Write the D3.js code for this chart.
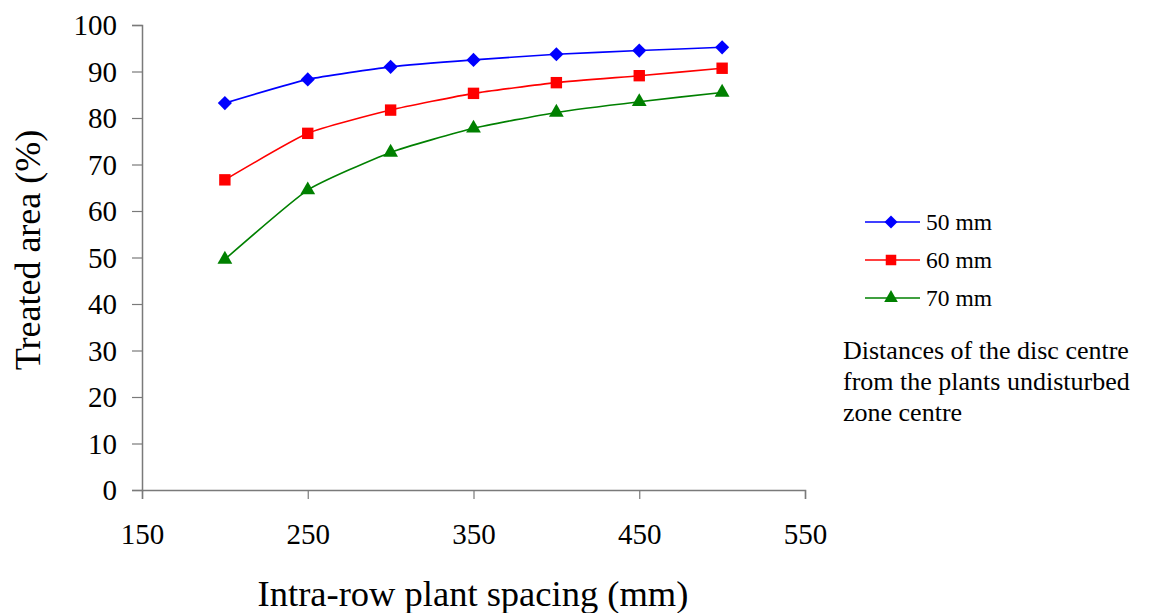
<!DOCTYPE html>
<html>
<head>
<meta charset="utf-8">
<script src="https://cdn.jsdelivr.net/npm/d3@7"></script>
<style>
  body { margin: 0; background: #fff; }
  svg { display: block; font-family: "Liberation Serif", "Times New Roman", serif; }
</style>
</head>
<body>
<svg id="chart" width="1149" height="613"></svg>
<script>
// spacing values (mm) and treated area (%) per disc distance
const spacing = [200, 250, 300, 350, 400, 450, 500];
const area50 = [83.2, 88.3, 91.0, 92.5, 93.7, 94.5, 95.2];
const area60 = [66.7, 76.7, 81.7, 85.3, 87.6, 89.1, 90.7];
const area70 = [49.6, 64.5, 72.6, 77.8, 81.2, 83.5, 85.5];
const seriesNames = ["50 mm", "60 mm", "70 mm"];
const xTicks = [150, 250, 350, 450, 550];
const yTicks = [0, 10, 20, 30, 40, 50, 60, 70, 80, 90, 100];

const svg = d3.select("#chart");

const x = d3.scaleLinear().domain([150, 550]).range([142, 805]);
const y = d3.scaleLinear().domain([0, 100]).range([490, 25]);

// square diamond (rotated square) like the spreadsheet marker
const diamond = {
    draw(ctx, size) {
        const r = Math.sqrt(size / 2);
        ctx.moveTo(0, -r); ctx.lineTo(r, 0); ctx.lineTo(0, r); ctx.lineTo(-r, 0); ctx.closePath();
    }
};

const series = [
    { name: seriesNames[0], values: area50, color: "#0000ff", shape: diamond, size: 100 },
    { name: seriesNames[1], values: area60, color: "#ff0000", shape: d3.symbolSquare, size: 130 },
    { name: seriesNames[2], values: area70, color: "#008000", shape: d3.symbolTriangle, size: 95 }
];

// axes
const xAxis = svg.append("g")
    .attr("transform", `translate(0,${y(0)})`)
    .call(d3.axisBottom(x).tickValues(xTicks).tickSize(9).tickPadding(24).tickFormat(d3.format("d")));
const yAxis = svg.append("g")
    .attr("transform", `translate(${x(150)},0)`)
    .call(d3.axisLeft(y).tickValues(yTicks).tickSize(10).tickPadding(15).tickFormat(d3.format("d")));

[xAxis, yAxis].forEach(g => {
    g.attr("font-family", null).attr("font-size", null);
    g.select(".domain").attr("stroke", "#7a7a7a").attr("stroke-width", 1.5);
    g.selectAll(".tick line").attr("stroke", "#7a7a7a").attr("stroke-width", 1.2);
    g.selectAll(".tick text")
        .attr("fill", "#000")
        .style("font-family", "Liberation Serif")
        .style("font-size", "29px");
});
yAxis.selectAll(".tick text").attr("dy", "0.34em");

// lightly smoothed lines and markers
const line = d3.line()
    .x((d, i) => x(spacing[i]))
    .y(d => y(d))
    .curve(d3.curveCardinal.tension(0.5));

series.forEach(s => {
    svg.append("path")
        .attr("d", line(s.values))
        .attr("fill", "none")
        .attr("stroke", s.color)
        .attr("stroke-width", 1.6);
    svg.append("g").selectAll("path")
        .data(s.values)
        .join("path")
        .attr("transform", (d, i) => `translate(${x(spacing[i])},${y(d)})`)
        .attr("d", d3.symbol().type(s.shape).size(s.size))
        .attr("fill", s.color);
});

// axis titles
svg.append("text")
    .attr("x", 473).attr("y", 606)
    .attr("text-anchor", "middle")
    .style("font-size", "36.5px")
    .text("Intra-row plant spacing (mm)");

svg.append("text")
    .attr("transform", "translate(40,250) rotate(-90)")
    .attr("text-anchor", "middle")
    .style("font-size", "36px")
    .text("Treated area (%)");

// legend
const legend = svg.append("g");
series.forEach((s, i) => {
    const ly = 222 + i * 38;
    legend.append("line")
        .attr("x1", 865).attr("x2", 920)
        .attr("y1", ly).attr("y2", ly)
        .attr("stroke", s.color).attr("stroke-width", 1.6);
    legend.append("path")
        .attr("transform", `translate(891,${ly})`)
        .attr("d", d3.symbol().type(s.shape).size(s.size * 0.85))
        .attr("fill", s.color);
    legend.append("text")
        .attr("x", 926).attr("y", ly + 8)
        .style("font-size", "23.5px")
        .text(s.name);
});

const note = ["Distances of the disc centre", "from the plants undisturbed", "zone centre"];
svg.append("text")
    .attr("x", 843).attr("y", 359)
    .style("font-size", "26px")
    .selectAll("tspan")
    .data(note)
    .join("tspan")
    .attr("x", 843)
    .attr("dy", (d, i) => i === 0 ? 0 : 31)
    .text(d => d);
</script>
</body>
</html>
